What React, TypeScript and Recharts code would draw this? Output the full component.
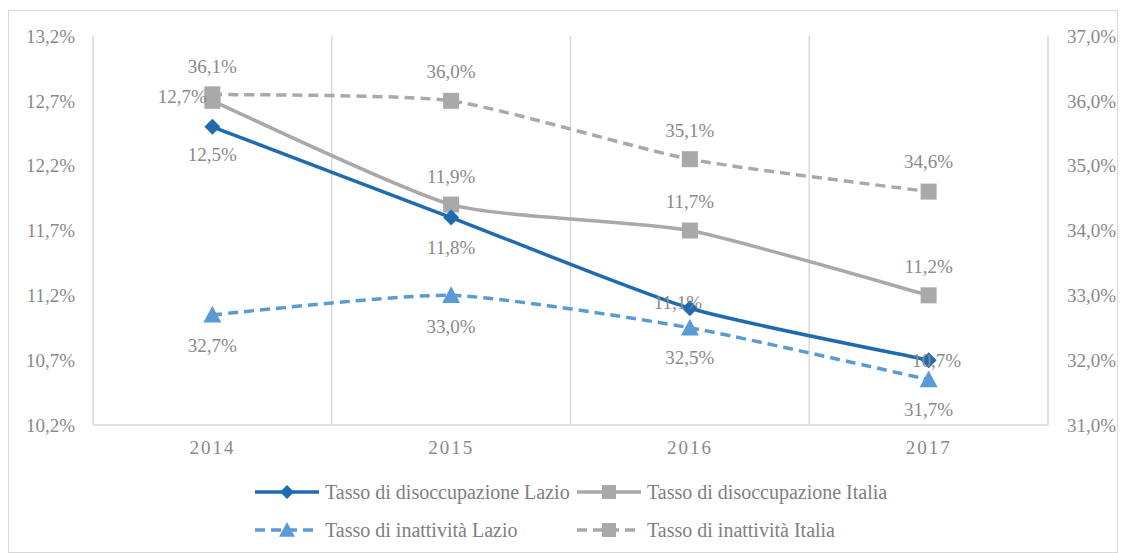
import { ComposedChart, Line, XAxis, YAxis, CartesianGrid, LabelList } from 'recharts'

const years = ['2014', '2015', '2016', '2017']
const disocLazio = [12.5, 11.8, 11.1, 10.7]
const disocItalia = [12.7, 11.9, 11.7, 11.2]
const inattLazio = [32.7, 33.0, 32.5, 31.7]
const inattItalia = [36.1, 36.0, 35.1, 34.6]
const leftTicks = [10.2, 10.7, 11.2, 11.7, 12.2, 12.7, 13.2]
const rightTicks = [31, 32, 33, 34, 35, 36, 37]

const data = years.map((year, i) => ({
  year,
  disocLazio: disocLazio[i],
  disocItalia: disocItalia[i],
  inattLazio: inattLazio[i],
  inattItalia: inattItalia[i],
}))

const DARK_BLUE = '#1f6bb0'
const LIGHT_BLUE = '#5b9bd5'
const GRAY = '#a9a9a9'
const GRID = '#d9d9d9'
const TEXT = '#8a8a8a'
const FONT = '"Liberation Serif", "DejaVu Serif", serif'

const pct = (v: number) => `${v.toFixed(1).replace('.', ',')}%`

// lightly smoothed line (weak Catmull-Rom), the original is almost straight
const SMOOTH = 10
const smooth = (context: any) => {
  let pts: number[][] = []
  return {
    areaStart() {},
    areaEnd() {},
    lineStart() {
      pts = []
    },
    point(x: number, y: number) {
      pts.push([+x, +y])
    },
    lineEnd() {
      const n = pts.length
      if (!n) return
      context.moveTo(pts[0][0], pts[0][1])
      for (let i = 0; i < n - 1; i++) {
        const p0 = pts[Math.max(i - 1, 0)]
        const p1 = pts[i]
        const p2 = pts[i + 1]
        const p3 = pts[Math.min(i + 2, n - 1)]
        context.bezierCurveTo(
          p1[0] + (p2[0] - p0[0]) / SMOOTH,
          p1[1] + (p2[1] - p0[1]) / SMOOTH,
          p2[0] - (p3[0] - p1[0]) / SMOOTH,
          p2[1] - (p3[1] - p1[1]) / SMOOTH,
          p2[0],
          p2[1]
        )
      }
    },
  }
}

// label nudges per point [dx, dy], Excel put them all over the place
const offDisocLazio = [[0, 28], [0, 30], [-12, -6], [8, 0]]
const offDisocItalia = [[-30, -4], [0, -28], [0, -29], [0, -29]]
const offInattLazio = [[0, 31], [0, 31], [0, 30], [0, 30]]
const offInattItalia = [[0, -28], [0, -29], [0, -29], [0, -30]]

const makeLabel = (offsets: number[][]) => (props: any) => {
  const { x, y, value, index } = props
  const [dx, dy] = offsets[index] || [0, 0]
  return (
    <text
      x={x + dx}
      y={y + dy}
      textAnchor="middle"
      dominantBaseline="central"
      fill={TEXT}
      fontFamily={FONT}
      fontSize={19}
    >
      {pct(value)}
    </text>
  )
}

const diamondPath = (cx: number, cy: number, s: number) =>
  `M${cx} ${cy - s}L${cx + s} ${cy}L${cx} ${cy + s}L${cx - s} ${cy}Z`
const trianglePath = (cx: number, cy: number, s: number) =>
  `M${cx} ${cy - s}L${cx + s} ${cy + s * 0.85}L${cx - s} ${cy + s * 0.85}Z`

const diamondDot = (props: any) => (
  <path key={`d${props.index}`} d={diamondPath(props.cx, props.cy, 8)} fill={DARK_BLUE} />
)
const squareDot = (props: any) => (
  <rect key={`s${props.index}`} x={props.cx - 8} y={props.cy - 8} width={16} height={16} fill={GRAY} />
)
const triangleDot = (props: any) => (
  <path key={`t${props.index}`} d={trianglePath(props.cx, props.cy, 9)} fill={LIGHT_BLUE} />
)

// vertical lines on the category boundaries, plus the plot's left/right edge
const boundaryLines = ({ offset }: any) =>
  years.map((_, i) => offset.left + (offset.width * i) / years.length).concat(offset.left + offset.width)

const legendItems = [
  { name: 'Tasso di disoccupazione Lazio', color: DARK_BLUE, dashed: false, marker: 'diamond' },
  { name: 'Tasso di disoccupazione Italia', color: GRAY, dashed: false, marker: 'square' },
  { name: 'Tasso di inattività Lazio', color: LIGHT_BLUE, dashed: true, marker: 'triangle' },
  { name: 'Tasso di inattività Italia', color: GRAY, dashed: true, marker: 'square' },
]

function LegendSwatch({ color, dashed, marker }: { color: string; dashed: boolean; marker: string }) {
  return (
    <svg width={64} height={20} style={{ flex: 'none' }}>
      <line
        x1={0}
        y1={10}
        x2={64}
        y2={10}
        stroke={color}
        strokeWidth={3.5}
        strokeDasharray={dashed ? '10 6' : undefined}
      />
      {marker === 'diamond' && <path d={diamondPath(32, 10, 7)} fill={color} />}
      {marker === 'square' && <rect x={25} y={3} width={14} height={14} fill={color} />}
      {marker === 'triangle' && <path d={trianglePath(32, 10, 8)} fill={color} />}
    </svg>
  )
}

export default function App() {
  return (
    <div
      style={{
        position: 'relative',
        width: 1110,
        height: 543,
        marginTop: 2,
        border: `1px solid ${GRID}`,
        boxSizing: 'border-box',
        background: '#fff',
        fontFamily: FONT,
      }}
    >
      <ComposedChart width={1108} height={449} data={data} margin={{ top: 25, right: 0, bottom: 0, left: 0 }}>
        <CartesianGrid
          horizontal={false}
          verticalCoordinatesGenerator={boundaryLines}
          stroke={GRID}
          strokeWidth={1.5}
        />
        <XAxis
          dataKey="year"
          scale="band"
          height={35}
          axisLine={{ stroke: GRID, strokeWidth: 1.5 }}
          tickLine={false}
          tickMargin={10}
          tick={{ fill: TEXT, fontSize: 19, fontFamily: FONT, letterSpacing: 2 }}
        />
        <YAxis
          yAxisId="left"
          width={84}
          domain={[10.2, 13.2]}
          ticks={leftTicks}
          tickFormatter={pct}
          axisLine={false}
          tickLine={false}
          tickMargin={12}
          tick={{ fill: TEXT, fontSize: 19, fontFamily: FONT }}
        />
        <YAxis
          yAxisId="right"
          orientation="right"
          width={69}
          domain={[31, 37]}
          ticks={rightTicks}
          tickFormatter={pct}
          axisLine={false}
          tickLine={false}
          tickMargin={13}
          tick={{ fill: TEXT, fontSize: 19, fontFamily: FONT }}
        />
        <Line
          yAxisId="right"
          type={smooth as any}
          dataKey="inattItalia"
          stroke={GRAY}
          strokeWidth={3.5}
          strokeDasharray="10 6"
          dot={squareDot}
          isAnimationActive={false}
        >
          <LabelList dataKey="inattItalia" content={makeLabel(offInattItalia)} />
        </Line>
        <Line
          yAxisId="right"
          type={smooth as any}
          dataKey="inattLazio"
          stroke={LIGHT_BLUE}
          strokeWidth={3.5}
          strokeDasharray="10 6"
          dot={triangleDot}
          isAnimationActive={false}
        >
          <LabelList dataKey="inattLazio" content={makeLabel(offInattLazio)} />
        </Line>
        <Line
          yAxisId="left"
          type={smooth as any}
          dataKey="disocItalia"
          stroke={GRAY}
          strokeWidth={3.5}
          dot={squareDot}
          isAnimationActive={false}
        >
          <LabelList dataKey="disocItalia" content={makeLabel(offDisocItalia)} />
        </Line>
        <Line
          yAxisId="left"
          type={smooth as any}
          dataKey="disocLazio"
          stroke={DARK_BLUE}
          strokeWidth={3.5}
          dot={diamondDot}
          isAnimationActive={false}
        >
          <LabelList dataKey="disocLazio" content={makeLabel(offDisocLazio)} />
        </Line>
      </ComposedChart>
      <div
        style={{
          position: 'absolute',
          left: 246,
          top: 470,
          display: 'grid',
          gridTemplateColumns: '322px 330px',
          rowGap: 16,
          color: '#7f7f7f',
          fontSize: 20,
        }}
      >
        {legendItems.map((it) => (
          <div key={it.name} style={{ display: 'flex', alignItems: 'center', height: 22, gap: 6 }}>
            <LegendSwatch color={it.color} dashed={it.dashed} marker={it.marker} />
            <span style={{ whiteSpace: 'nowrap' }}>{it.name}</span>
          </div>
        ))}
      </div>
    </div>
  )
}
